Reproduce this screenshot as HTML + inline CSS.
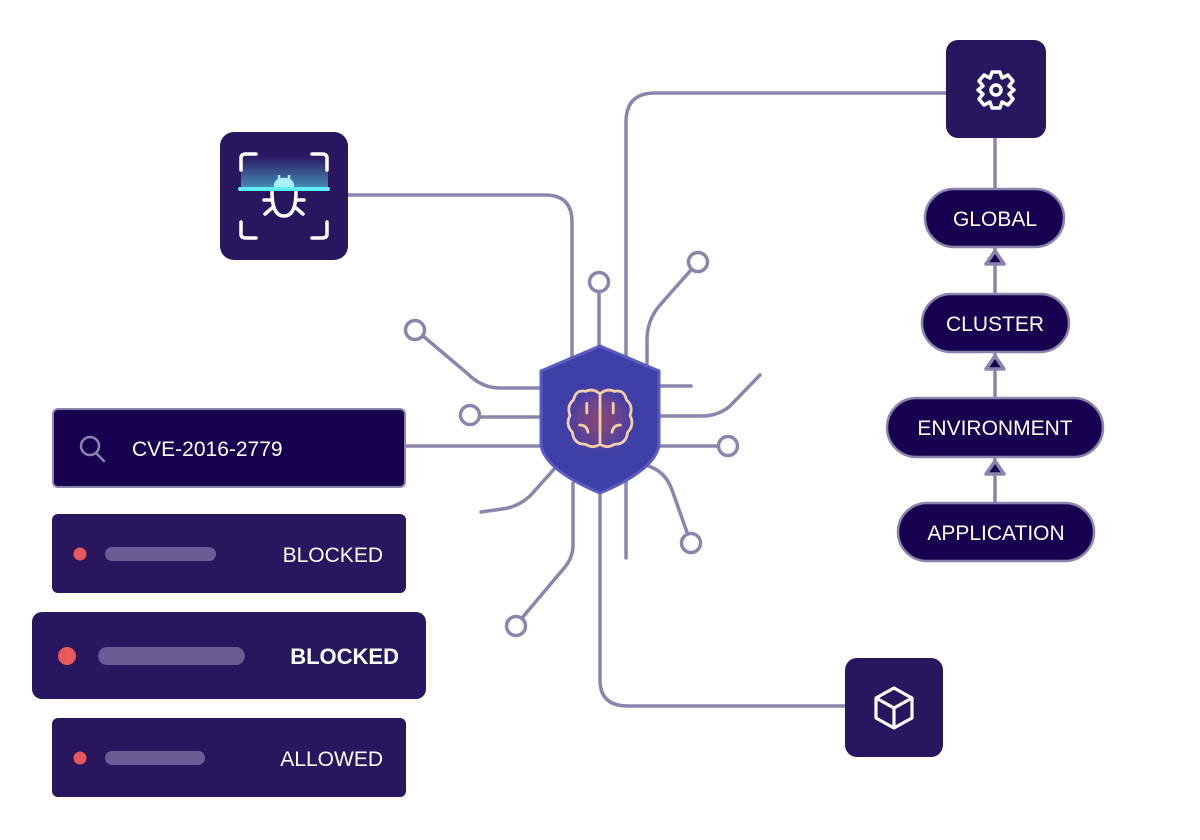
<!DOCTYPE html>
<html><head><meta charset="utf-8"><style>
html,body{margin:0;padding:0;background:#fff;}
svg{display:block;font-family:"Liberation Sans",sans-serif;}
</style></head><body>
<svg width="1200" height="840" viewBox="0 0 1200 840" xmlns="http://www.w3.org/2000/svg">
<defs>
<radialGradient id="glow" cx="0.5" cy="0.5" r="0.5">
<stop offset="0" stop-color="#8a4a70"/><stop offset="0.6" stop-color="#6a4490" stop-opacity="0.8"/><stop offset="1" stop-color="#3f3fa8" stop-opacity="0"/>
</radialGradient>
<linearGradient id="scan" x1="0" y1="0" x2="0" y2="1">
<stop offset="0" stop-color="#2a1763"/><stop offset="1" stop-color="#4aa3c4"/>
</linearGradient>
</defs>
<g fill="none" stroke="#8b85ae" stroke-width="3.5" stroke-linecap="round">
<path d="M348 195 H545 Q572 195 572 222 V360"/>
<path d="M946 93 H655 Q626 93 626 122 V360"/>
<path d="M599 292 V350"/>
<path d="M691 270 L660 305 Q647 320 647 340 V368"/>
<path d="M423 336 L468 374 Q482 388 500 388 H541"/>
<path d="M479 417 H541"/>
<path d="M405 446 H545"/>
<path d="M659 386 H691"/>
<path d="M659 416 H702 Q718 416 730 406 L760 375"/>
<path d="M659 446 H718"/>
<path d="M645 465 Q665 470 672 490 L688 535"/>
<path d="M556 467 L530 496 Q518 507 502 509 L481 512"/>
<path d="M573 483 V545 Q573 557 565 567 L522 618"/>
<path d="M600 494 V680 Q600 706 628 706 H845"/>
<path d="M626 480 V558"/>
<path d="M995 138 V189"/>
<path d="M995 247 V294"/>
<path d="M995 352 V398"/>
<path d="M995 457 V503"/>
</g>
<g fill="#fff" stroke="#8b85ae" stroke-width="3.5">
<circle cx="599" cy="282" r="9.5"/>
<circle cx="698" cy="262" r="9.5"/>
<circle cx="415" cy="330" r="9.5"/>
<circle cx="470" cy="415" r="9.5"/>
<circle cx="728" cy="446" r="9.5"/>
<circle cx="691" cy="543" r="9.5"/>
<circle cx="516" cy="626" r="9.5"/>
</g>
<path d="M600 346 L659 371 V445 Q655 470 600 493 Q545 470 541 445 V371 Z" fill="#3f3fa8" stroke="#5a5cc0" stroke-width="3"/>
<circle cx="600" cy="420" r="38" fill="url(#glow)"/>
<g transform="translate(600,419) scale(1.2) translate(-600,-419)" fill="none" stroke="#f6cfa8" stroke-width="2.3" stroke-linecap="round" stroke-linejoin="round">
<path d="M600 398 V440 M600 398 Q594 393 588 396 Q580 394 578 403 Q572 408 575 416 Q571 424 577 430 Q578 440 588 440 Q594 444 600 440"/>
<path d="M600 398 Q606 393 612 396 Q620 394 622 403 Q628 408 625 416 Q629 424 623 430 Q622 440 612 440 Q606 444 600 440"/>
<path d="M589 406 V414 M583 424 Q589 424 590 430 M611 406 V414 M617 424 Q611 424 610 430"/>
</g>
<rect x="220" y="132" width="128" height="128" rx="14" fill="#28165f"/>
<rect x="241" y="156" width="87" height="32" fill="url(#scan)" opacity="0.85"/>
<g fill="none" stroke="#fff" stroke-width="3.5" stroke-linecap="round">
<path d="M241 170 V158 Q241 154 246 154 H256"/>
<path d="M312 154 H322 Q327 154 327 158 V170"/>
<path d="M241 222 V234 Q241 238 246 238 H256"/>
<path d="M312 238 H322 Q327 238 327 234 V222"/>
<path d="M272 192 Q272 216 284 216 Q296 216 296 192 M264 200 H272 M296 200 H304 M265 214 L272 208 M303 214 L296 208"/>
</g>
<path d="M275 187 Q275 179 284 179 Q293 179 293 187 Z M279 179 V175 M289 179 V175" fill="#a8f0f5" stroke="#a8f0f5" stroke-width="2.5"/>
<rect x="238" y="187" width="92" height="4" rx="2" fill="#5ef0f5"/>
<rect x="946" y="40" width="100" height="98" rx="12" fill="#28165f"/>
<g transform="translate(996,90)" fill="none" stroke="#fff" stroke-width="3.5">
<path d="M-4 -18 H4 L6 -12 L12 -15 L17 -9 L13 -4 L18 0 L13 4 L17 9 L12 15 L6 12 L4 18 H-4 L-6 12 L-12 15 L-17 9 L-13 4 L-18 0 L-13 -4 L-17 -9 L-12 -15 L-6 -12 Z" stroke-linejoin="round"/>
<circle r="5"/>
</g>
<rect x="845" y="658" width="98" height="99" rx="12" fill="#28165f"/>
<g fill="none" stroke="#fff" stroke-width="3.2" stroke-linejoin="round">
<path d="M894 688 L912 698 V718 L894 728 L876 718 V698 Z M876 698 L894 708 L912 698 M894 708 V728"/>
</g>
<g stroke="#8b85ae" stroke-width="2.5" fill="#16004f">
<rect x="925" y="189" width="139" height="58" rx="29"/>
<rect x="922" y="294" width="147" height="58" rx="29"/>
<rect x="887" y="398" width="216" height="59" rx="29.5"/>
<rect x="898" y="503" width="196" height="58" rx="29"/>
</g>
<g fill="#16004f" stroke="#8b85ae" stroke-width="3.5" stroke-linejoin="round">
<path d="M995 251 L1004 264 H986 Z"/>
<path d="M995 356 L1004 369 H986 Z"/>
<path d="M995 461 L1004 474 H986 Z"/>
</g>
<g fill="#fff" font-size="21" text-anchor="middle">
<text x="995" y="226">GLOBAL</text>
<text x="995" y="331">CLUSTER</text>
<text x="995" y="435">ENVIRONMENT</text>
<text x="996" y="540">APPLICATION</text>
</g>
<rect x="53" y="409" width="352" height="78" rx="5" fill="#16004f" stroke="#8b85ae" stroke-width="2"/>
<circle cx="90" cy="446" r="9" fill="none" stroke="#8b85ae" stroke-width="2.5"/>
<path d="M96 453 L104 461" stroke="#8b85ae" stroke-width="2.5" stroke-linecap="round"/>
<text x="132" y="456" fill="#fff" font-size="21">CVE-2016-2779</text>
<rect x="52" y="514" width="354" height="79" rx="6" fill="#28165f"/>
<circle cx="80" cy="554" r="6.5" fill="#e85a5a"/>
<rect x="105" y="547" width="111" height="14" rx="7" fill="#6a5d96"/>
<text x="383" y="562" fill="#fff" font-size="21" text-anchor="end">BLOCKED</text>
<rect x="32" y="612" width="394" height="87" rx="10" fill="#28165f"/>
<circle cx="67" cy="656" r="9" fill="#e85a5a"/>
<rect x="98" y="647" width="147" height="18" rx="9" fill="#6a5d96"/>
<text x="399" y="664" fill="#fff" font-size="22" font-weight="bold" text-anchor="end">BLOCKED</text>
<rect x="52" y="718" width="354" height="79" rx="6" fill="#28165f"/>
<circle cx="80" cy="758" r="6.5" fill="#e85a5a"/>
<rect x="105" y="751" width="100" height="14" rx="7" fill="#6a5d96"/>
<text x="383" y="766" fill="#fff" font-size="21" text-anchor="end">ALLOWED</text>
</svg>
</body></html>
